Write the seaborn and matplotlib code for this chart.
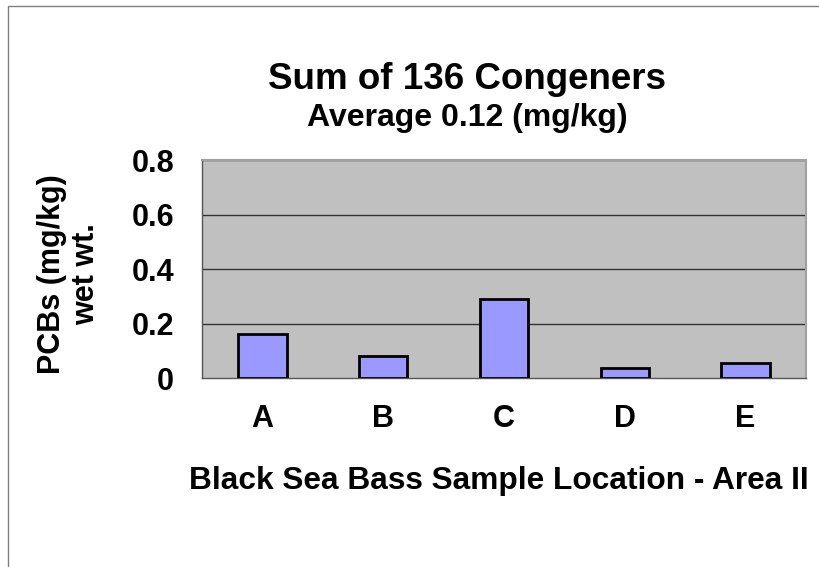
import matplotlib
matplotlib.use("Agg")
import matplotlib.pyplot as plt
import seaborn as sns
import pandas as pd
from matplotlib.patches import Rectangle

# values
locations = ["A", "B", "C", "D", "E"]
pcbs = [0.16, 0.08, 0.29, 0.036, 0.055]
y_ticks = [0, 0.2, 0.4, 0.6, 0.8]
y_tick_labels = ["0", "0.2", "0.4", "0.6", "0.8"]

df = pd.DataFrame({"location": locations, "pcbs": pcbs})

sns.set_style("white")
plt.rcParams["font.family"] = ["Liberation Sans", "DejaVu Sans"]
plt.rcParams["font.weight"] = "bold"
plt.rcParams["text.color"] = "black"
plt.rcParams["xtick.color"] = "black"
plt.rcParams["ytick.color"] = "black"

fig = plt.figure(figsize=(8.2, 5.67), dpi=100)
ax = fig.add_axes([0.2463, 0.3333, 0.7366, 0.3845])

sns.barplot(data=df, x="location", y="pcbs", color="#9999FF", width=0.4,
            edgecolor="black", linewidth=2, saturation=1, ax=ax, zorder=3)

ax.set_facecolor("#C0C0C0")
ax.set_ylim(0, 0.8)
ax.set_xlim(-0.5, 4.5)
ax.set_yticks(y_ticks)
ax.set_yticklabels(y_tick_labels, fontsize=22, fontweight="bold")
for y in y_ticks[1:]:
    ax.axhline(y, color="#333333", linewidth=1, zorder=1)

# category ticks sit between the categories
ax.set_xticks([-0.5, 0.5, 1.5, 2.5, 3.5, 4.5], minor=True)
ax.tick_params(axis="x", which="minor", length=7, width=1, color="#555555", direction="out")
ax.tick_params(axis="x", which="major", length=0, pad=19, labelsize=22)
ax.tick_params(axis="y", length=8, width=1, color="#555555", direction="out", pad=12)
for lbl in ax.get_xticklabels():
    lbl.set_fontweight("bold")

for side in ["left", "bottom"]:
    ax.spines[side].set_color("#555555")
    ax.spines[side].set_linewidth(1)
for side in ["top", "right"]:
    ax.spines[side].set_color("#A0A0A0")
    ax.spines[side].set_linewidth(1.5)

ax.set_xlabel("")
ax.set_ylabel("")

fig.text(0.5695, 0.859, "Sum of 136 Congeners", ha="center", va="center",
         fontsize=26.5, fontweight="bold")
fig.text(0.57, 0.792, "Average 0.12 (mg/kg)", ha="center", va="center",
         fontsize=23, fontweight="bold")
fig.text(0.608, 0.152, "Black Sea Bass Sample Location - Area II", ha="center",
         va="center", fontsize=22.8, fontweight="bold")
fig.text(0.084, 0.516, "PCBs (mg/kg)\nwet wt.", ha="center", va="center",
         rotation=90, fontsize=22, fontweight="bold", linespacing=1.15)

# outer chart frame (left and top edges visible)
fig.patches.append(Rectangle((0.0098, -0.05), 1.2, 1.04, transform=fig.transFigure,
                             fill=False, edgecolor="#808080", linewidth=1))

fig.savefig("out.png", dpi=100)
